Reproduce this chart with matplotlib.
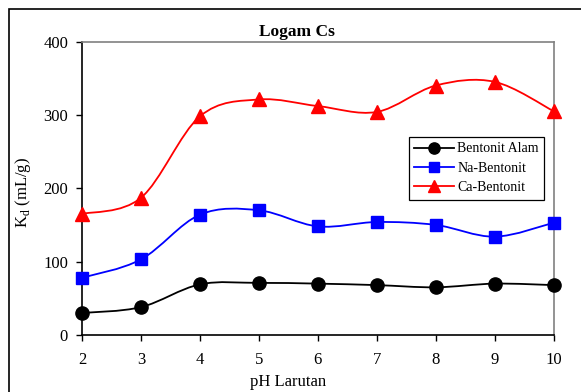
import numpy as np
import matplotlib
matplotlib.use('Agg')
import matplotlib.pyplot as plt
from matplotlib.path import Path
from matplotlib.patches import PathPatch, Rectangle
from matplotlib.lines import Line2D

# ---------------------------------------------------------------------------
# Data
# ---------------------------------------------------------------------------
ph = [2, 3, 4, 5, 6, 7, 8, 9, 10]
bentonitAlam = [30, 38, 69, 71, 70, 68, 65, 70, 68]
naBentonit = [78, 103, 164, 170, 148, 154, 150, 134, 153]
caBentonit = [165, 187, 298, 321, 312, 304, 340, 345, 305]

seriesNames = ['Bentonit Alam', 'Na-Bentonit', 'Ca-Bentonit']
seriesData = [bentonitAlam, naBentonit, caBentonit]
colors = ['black', '#0000FF', '#FF0000']
markers = ['o', 's', '^']
markerSizes = [9.5, 8.5, 9.5]

plt.rcParams['font.family'] = ['Liberation Serif', 'DejaVu Serif']
plt.rcParams['font.size'] = 12


def smooth_path(x, y):
    '''Excel-style smoothed line as cubic Bezier segments (Catmull-Rom).'''
    pts = np.column_stack([x, y]).astype(float)
    n = len(pts)
    verts = [pts[0]]
    codes = [Path.MOVETO]
    for i in range(n - 1):
        p0 = pts[i - 1] if i > 0 else pts[i]
        p1 = pts[i]
        p2 = pts[i + 1]
        p3 = pts[i + 2] if i + 2 < n else pts[i + 1]
        c1 = p1 + (p2 - p0) / 6.0
        c2 = p2 - (p3 - p1) / 6.0
        verts += [c1, c2, p2]
        codes += [Path.CURVE4] * 3
    return Path(verts, codes)


W, H = 581, 392
fig = plt.figure(figsize=(W / 100, H / 100), dpi=100)
ax = fig.add_axes([82 / W, 1 - 335 / H, (553.7 - 82) / W, (335 - 41.5) / H])

for name, vals, col, mk, ms in zip(seriesNames, seriesData, colors, markers, markerSizes):
    ax.add_patch(PathPatch(smooth_path(ph, vals), facecolor='none',
                           edgecolor=col, lw=1.3, zorder=2))
    ax.plot(ph, vals, ls='none', marker=mk, ms=ms, color=col,
            markeredgecolor=col, zorder=3, clip_on=False)

ax.set_xlim(2, 10)
ax.set_ylim(0, 400)
ax.set_xticks(ph)
ax.set_yticks([0, 100, 200, 300, 400])
ax.tick_params(direction='out', length=4, width=1, labelsize=12)
ax.tick_params(axis='x', pad=8)
ax.tick_params(axis='y', pad=6)

for side in ['top', 'right']:
    ax.spines[side].set_color('#808080')
    ax.spines[side].set_linewidth(1.2)
for side in ['left', 'bottom']:
    ax.spines[side].set_color('black')
    ax.spines[side].set_linewidth(1.2)

fig.text(297 / W, 1 - 32 / H, 'Logam Cs', ha='center', va='center',
         fontsize=12.5, fontweight='bold')
fig.text(288 / W, 1 - 382 / H, 'pH Larutan', ha='center', va='center', fontsize=12)
fig.text(23 / W, 1 - 192 / H, r'K$_\mathregular{d}$ (mL/g)', ha='center', va='center',
         rotation=90, fontsize=12)

handles = [Line2D([], [], color=c, marker=m, ms=s * 0.85, lw=1.3)
           for c, m, s in zip(colors, markers, markerSizes)]
leg = fig.legend(handles, seriesNames, loc='upper left',
                 bbox_to_anchor=(401.7 / W, 1 - 130 / H), frameon=True,
                 fancybox=False, edgecolor='black', framealpha=1,
                 handlelength=2.9, labelspacing=0.45, borderpad=0.4,
                 handletextpad=0.2, fontsize=10)
leg.get_frame().set_linewidth(0.9)

# outer chart border (extends past the right/bottom edge in the reference)
fig.patches.append(Rectangle((9 / W, -0.05), 1.2, 1 - 9 / H + 0.05,
                             transform=fig.transFigure, fill=False,
                             edgecolor='black', lw=1.2))

fig.savefig('out.png', dpi=100)
